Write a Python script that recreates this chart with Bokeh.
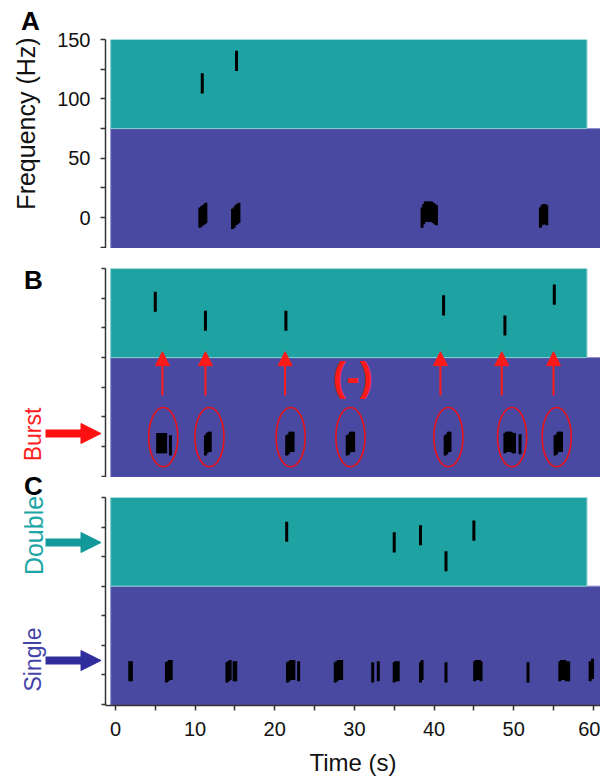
import math
from bokeh.plotting import figure
from bokeh.layouts import column, row
from bokeh.models import Range1d, FixedTicker, Label, Arrow, NormalHead, ColumnDataSource
from bokeh.embed import file_html
from bokeh.resources import INLINE

# ---------------- data ----------------
time_ticks = [0, 10, 20, 30, 40, 50, 60]
time_minor = [5, 15, 25, 35, 45, 55]
freq_ticks_a = [0, 50, 100, 150]
freq_minor_a = [-25, 25, 75, 125]
freq_ticks_bc = [-25, 0, 25, 50, 75, 100, 125, 150]

x_lo, x_hi = -1.25, 60.9
hz_lo, hz_hi = -26, 150
split_hz = 75
band_start_t = -0.6
teal_end_t = 59.2
purple_end_t = 61.5

# Panel A
a_double_t = [10.9, 15.2]
a_double_hz = [113, 132]
a_single_t = [10.6, 10.8, 11.0, 11.2, 11.35,
              14.7, 14.9, 15.1, 15.3, 15.5,
              38.5, 38.7, 38.9, 39.1, 39.3, 39.5, 39.7, 39.9, 40.1, 40.3,
              53.35, 53.55, 53.75, 53.95, 54.15]
a_single_hz = [0, 1, 2, 3, 4,
               -1, 0, 2, 3, 4,
               0, 3, 5, 5, 5, 5, 5, 4, 3, 2,
               0, 2, 3, 3, 2]

# Panel B
b_double_t = [5.0, 11.3, 21.4, 41.2, 48.9, 55.1]
b_double_hz = [122, 106, 106, 119, 102, 128]
b_burst_t = [5.3, 5.5, 5.7, 5.9, 6.1, 6.3, 6.9,
             11.3, 11.5, 11.7, 11.9,
             21.5, 21.7, 21.9, 22.1, 22.3,
             29.1, 29.3, 29.5, 29.7, 29.9,
             41.4, 41.6, 41.8, 42.0,
             48.9, 49.1, 49.3, 49.5, 49.7, 49.9, 50.1, 50.8,
             55.2, 55.4, 55.6, 55.8, 56.0]
b_burst_hz = [3, 3, 3, 3, 3, 3, 1,
              1, 3, 4, 4,
              1, 2, 4, 4, 4,
              1, 2, 4, 4, 4,
              1, 2, 4, 4,
              3, 4, 4, 4, 4, 3, 3, 2,
              1, 2, 4, 4, 4]
b_circle_t = [6.0, 11.8, 22.0, 29.5, 41.8, 49.8, 55.4]
b_circle_hz = [8, 8, 8, 8, 8, 8, 8]
b_arrow_t = [5.9, 11.3, 21.3, 40.8, 48.5, 55.0]
b_arrow_from_hz = 43
b_arrow_to_hz = 80
b_none_t, b_none_hz = 29.8, 59

# Panel C
c_double_t = [21.5, 35.0, 38.3, 41.5, 45.0]
c_double_hz = [121, 112, 118, 96, 122]
c_single_t = [1.8, 2.0,
              6.4, 6.6, 6.8, 7.0,
              14.0, 14.2, 14.4, 14.9, 15.1,
              21.6, 21.8, 22.0, 22.2, 22.4, 23.0,
              27.6, 27.8, 28.0, 28.2, 28.4,
              32.3, 33.0,
              35.0, 35.2, 35.5,
              38.3, 38.5,
              41.5,
              45.1, 45.3, 45.5, 45.7, 45.9,
              51.8,
              55.8, 56.0, 56.2, 56.4, 56.6, 56.9,
              59.6, 59.9]
c_single_hz = [3, 3,
               2, 3, 4, 4,
               2, 3, 4, 3, 3,
               2, 3, 4, 4, 4, 3,
               2, 3, 4, 4, 4,
               2, 3,
               2, 3, 3,
               2, 4,
               2,
               3, 4, 4, 4, 3,
               2,
               3, 4, 4, 4, 3, 3,
               3, 5]

# ---------------- style ----------------
TEAL = "#1ea2a2"
PURPLE = "#4a49a1"
FONT = "Liberation Sans"
TICK_HALF = 8.5
FRAME_LEFT = 105      # page x of the y axes
A_LEFT_W = 50         # width of the side-annotation strip next to panel A
BC_LEFT_W = 101       # width of the side-annotation strip next to panels B and C


def base_fig(width, height, left, top, bottom, with_x):
    p = figure(width=width, height=height, output_backend="svg", toolbar_location=None,
               x_range=Range1d(x_lo, x_hi), y_range=Range1d(hz_lo, hz_hi),
               x_axis_location="below" if with_x else None,
               min_border_left=left, min_border_right=0,
               min_border_top=top, min_border_bottom=bottom)
    p.outline_line_color = None
    p.xgrid.visible = False
    p.ygrid.visible = False
    p.background_fill_color = "white"
    p.border_fill_color = "white"
    return p


def side_fig(width, height, y_top, y_bottom):
    # a strip for the annotations left of the axes; coordinates are page pixels
    p = figure(width=width, height=height, output_backend="svg", toolbar_location=None,
               x_range=Range1d(0, width), y_range=Range1d(y_bottom, y_top),
               x_axis_location=None, y_axis_location=None,
               min_border_left=0, min_border_right=0, min_border_top=0, min_border_bottom=0)
    p.outline_line_color = None
    p.xgrid.visible = False
    p.ygrid.visible = False
    p.background_fill_color = "white"
    p.border_fill_color = "white"
    return p


def style_axis(ax, tick_out=5):
    ax.axis_line_color = "#333333"
    ax.axis_line_width = 1.5
    ax.major_tick_line_color = "#333333"
    ax.minor_tick_line_color = "#333333"
    ax.major_tick_line_width = 1.5
    ax.minor_tick_line_width = 1.5
    ax.major_tick_in = 0
    ax.major_tick_out = tick_out
    ax.minor_tick_in = 0
    ax.minor_tick_out = tick_out
    ax.major_label_text_font = FONT
    ax.major_label_text_font_size = "20px"
    ax.major_label_text_color = "#111111"


def bands(p):
    p.quad(left=[band_start_t], right=[purple_end_t], bottom=[hz_lo], top=[split_hz],
           fill_color=PURPLE, line_color="#8f8ecb", line_width=1)
    p.quad(left=[band_start_t], right=[teal_end_t], bottom=[split_hz], top=[hz_hi],
           fill_color=TEAL, line_color="#86cfcf", line_width=1)


def spikes(p, ts, hz):
    src = ColumnDataSource(dict(x=ts, y0=[h - TICK_HALF for h in hz], y1=[h + TICK_HALF for h in hz]))
    p.segment(x0="x", y0="y0", x1="x", y1="y1", source=src,
              line_color="black", line_width=3, line_cap="butt")


def blank_y_axis(p):
    p.yaxis.ticker = FixedTicker(ticks=freq_ticks_bc)
    p.yaxis.major_label_overrides = {v: "" for v in freq_ticks_bc}
    style_axis(p.yaxis[0], tick_out=4)
    p.yaxis.major_label_standoff = 0


def letter(p, text, x, y):
    p.add_layout(Label(x=x, y=y, text=text, text_font=FONT, text_font_size="26px",
                       text_font_style="bold", text_align="center", text_baseline="middle",
                       text_color="black"))


def vtext(p, text, x, y, color, size):
    p.add_layout(Label(x=x, y=y, text=text, text_font=FONT, text_font_size=size,
                       angle=math.pi / 2, text_align="center", text_baseline="middle",
                       text_color=color))


def side_arrow(p, y, color):
    p.add_layout(Arrow(x_start=45, y_start=y, x_end=BC_LEFT_W - 0.5, y_end=y,
                       line_color=color, line_width=8,
                       end=NormalHead(size=20, fill_color=color, line_color=color, line_width=1)))


# ---------------- panel A ----------------
pa = base_fig(600 - A_LEFT_W, 248, FRAME_LEFT - A_LEFT_W, 39, 0, False)
bands(pa)
spikes(pa, a_double_t, a_double_hz)
spikes(pa, a_single_t, a_single_hz)
pa.yaxis.ticker = FixedTicker(ticks=freq_ticks_a, minor_ticks=freq_minor_a)
style_axis(pa.yaxis[0])
pa.yaxis.major_label_standoff = 10

sa = side_fig(A_LEFT_W, 248, 0, 248)
letter(sa, "A", 30, 20)
vtext(sa, "Frequency (Hz)", 25, 123, "#111111", "25px")

# ---------------- panel B ----------------
pb = base_fig(600 - BC_LEFT_W, 229, FRAME_LEFT - BC_LEFT_W, 20, 0, False)
bands(pb)
spikes(pb, b_double_t, b_double_hz)
spikes(pb, b_burst_t, b_burst_hz)
pb.ellipse(x=b_circle_t, y=b_circle_hz, width=3.65, height=50,
           fill_color=None, line_color="#e8141c", line_width=1.6)
for t in b_arrow_t:
    pb.add_layout(Arrow(x_start=t, y_start=b_arrow_from_hz, x_end=t, y_end=b_arrow_to_hz,
                        line_color="#ff1a1a", line_width=2,
                        end=NormalHead(size=14, fill_color="#ff1a1a", line_color="#ff1a1a", line_width=1)))
pb.add_layout(Label(x=b_none_t, y=b_none_hz, text="(-)", text_font=FONT, text_font_size="40px",
                    text_font_style="bold", text_align="center", text_baseline="middle",
                    text_color="#ff1a1a"))
blank_y_axis(pb)

# ---------------- panel C ----------------
pc = base_fig(600 - BC_LEFT_W, 301, FRAME_LEFT - BC_LEFT_W, 20, 72, True)
bands(pc)
spikes(pc, c_double_t, c_double_hz)
spikes(pc, c_single_t, c_single_hz)
blank_y_axis(pc)
pc.xaxis.ticker = FixedTicker(ticks=time_ticks, minor_ticks=time_minor)
style_axis(pc.xaxis[0])
pc.xaxis.major_label_standoff = 11
pc.xaxis.axis_label = "Time (s)"
pc.xaxis.axis_label_text_font = FONT
pc.xaxis.axis_label_text_font_size = "24px"
pc.xaxis.axis_label_text_font_style = "normal"
pc.xaxis.axis_label_text_color = "#111111"
pc.xaxis.axis_label_standoff = 10

# side strip for B and C (page y 248 .. 778)
sbc = side_fig(BC_LEFT_W, 530, 248, 778)
letter(sbc, "B", 33, 279)
vtext(sbc, "Burst", 32, 434, "#ff2020", "23px")
side_arrow(sbc, 433, "#ff1010")
letter(sbc, "C", 33, 485)
vtext(sbc, "Double", 33, 535, "#1ca6a6", "25px")
side_arrow(sbc, 542, "#12999a")
vtext(sbc, "Single", 32, 659, "#4343a8", "23px")
side_arrow(sbc, 660, "#302e9c")

layout = column(row(column(sa), column(pa)), row(sbc, column(pb, pc)))
open("out.html", "w").write(file_html(layout, INLINE))
